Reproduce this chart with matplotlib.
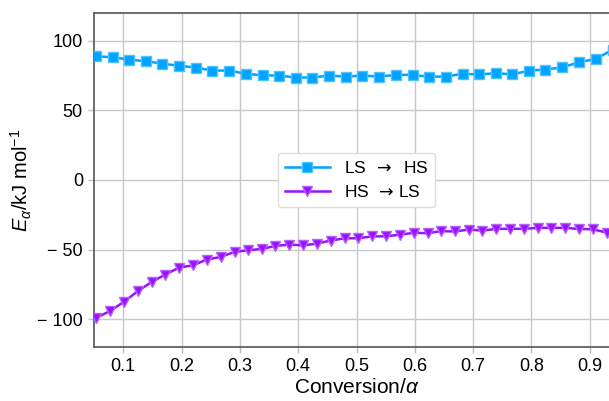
import numpy as np
import matplotlib
matplotlib.use('Agg')
import matplotlib.pyplot as plt
from matplotlib.ticker import FuncFormatter

plt.rcParams['font.family'] = ['Liberation Sans', 'DejaVu Sans']
plt.rcParams['mathtext.fontset'] = 'custom'
plt.rcParams['mathtext.rm'] = 'Liberation Sans'
plt.rcParams['mathtext.it'] = 'Liberation Sans:italic'
plt.rcParams['mathtext.sf'] = 'DejaVu Sans'

# LS -> HS (squares)
alpha_up = [0.053, 0.082, 0.110, 0.139, 0.167, 0.196, 0.224, 0.253, 0.282, 0.310,
            0.339, 0.367, 0.396, 0.424, 0.453, 0.482, 0.510, 0.539, 0.567, 0.596,
            0.624, 0.653, 0.682, 0.710, 0.739, 0.767, 0.796, 0.824, 0.853, 0.882,
            0.910, 0.939]
ea_up = [88.9, 88.2, 86.5, 85.3, 83.6, 82.0, 80.8, 78.6, 78.6, 76.3,
         75.2, 75.0, 73.6, 73.6, 75.0, 74.3, 75.0, 74.3, 75.5, 75.5,
         74.2, 74.3, 76.3, 75.8, 76.7, 75.8, 78.6, 79.3, 81.0, 84.6,
         87.0, 93.5]

# HS -> LS (triangles)
alpha_down = [0.054, 0.078, 0.101, 0.125, 0.149, 0.172, 0.196, 0.220, 0.243, 0.267,
              0.291, 0.314, 0.338, 0.361, 0.385, 0.409, 0.432, 0.456, 0.480, 0.503,
              0.527, 0.551, 0.574, 0.598, 0.622, 0.645, 0.669, 0.693, 0.716, 0.740,
              0.764, 0.787, 0.811, 0.834, 0.858, 0.882, 0.905, 0.929]
ea_down = [-99.0, -94.0, -87.6, -79.9, -73.2, -68.0, -62.9, -61.3, -57.2, -55.3,
           -51.7, -50.5, -49.5, -47.4, -46.4, -47.0, -45.7, -43.5, -41.9, -41.9,
           -40.5, -40.5, -39.3, -38.0, -38.2, -36.8, -37.0, -35.6, -36.4, -35.1,
           -35.1, -35.1, -34.4, -34.4, -34.4, -35.2, -35.4, -37.8]

x_ticks = [0.1, 0.2, 0.3, 0.4, 0.5, 0.6, 0.7, 0.8, 0.9]
y_ticks = [-100, -50, 0, 50, 100]

fig = plt.figure(figsize=(6.09, 4.01), dpi=100)
ax = fig.add_axes([0.1544, 0.1347, 0.862, 0.833])

ax.plot(alpha_up, ea_up, '-s', color='#00a3ff', mfc='#00a3ff', mec='#4cc4ff',
        ms=7, lw=1.8, label=r'LS $\;\mathsf{\rightarrow}\;$ HS', zorder=3)
ax.plot(alpha_down, ea_down, '-v', color='#9a12ff', mfc='#9a12ff', mec='#b860ff',
        ms=7.5, lw=1.8, label=r'HS $\,\mathsf{\rightarrow}\,$LS', zorder=3)

ax.set_xlim(0.05, 0.95)
ax.set_ylim(-120, 120)
ax.set_xticks(x_ticks)
ax.set_yticks(y_ticks)

def fmt_y(v, pos):
    v = int(round(v))
    return '\u2212 %d' % -v if v < 0 else '%d' % v

ax.yaxis.set_major_formatter(FuncFormatter(fmt_y))
ax.xaxis.set_major_formatter(FuncFormatter(lambda v, p: '%.1f' % v))

ax.grid(True, color='#c8c8c8', lw=1.0)
ax.set_axisbelow(True)
ax.tick_params(axis='both', colors='#c0c0c0', length=4, width=1.0,
               labelcolor='black', labelsize=13, pad=4)
for s in ax.spines.values():
    s.set_color('#555555')
    s.set_linewidth(1.2)

ax.set_xlabel(r'Conversion/$\alpha$', fontsize=15, labelpad=2)
ax.set_ylabel(r'$E_{\alpha}$/kJ mol$^{-1}$', fontsize=14.5, labelpad=2)

leg = ax.legend(loc='center', fontsize=12.5, frameon=True, fancybox=True,
                edgecolor='#dddddd', framealpha=1.0, handlelength=2.6,
                labelspacing=0.5)

fig.savefig('out.png', dpi=100)
